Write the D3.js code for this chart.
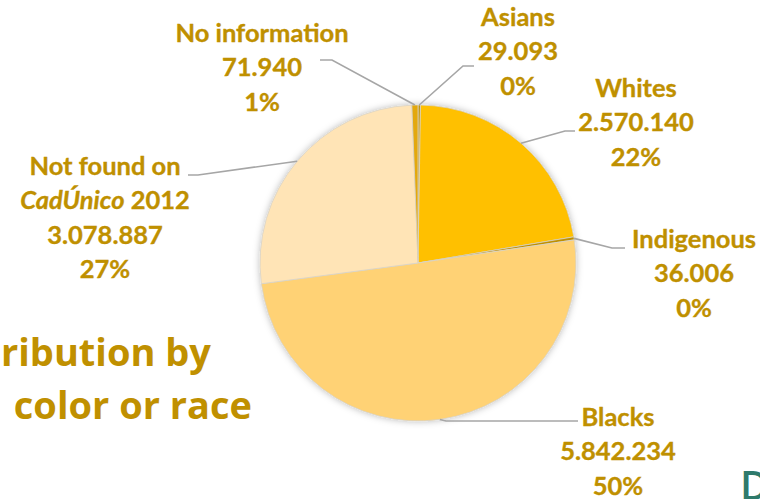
<!DOCTYPE html>
<html>
<head>
<meta charset="utf-8">
<script src="https://cdn.jsdelivr.net/npm/d3@7/dist/d3.min.js"></script>
<style>
  html, body { margin: 0; padding: 0; background: #ffffff; overflow: hidden; }
  svg { display: block; }
</style>
</head>
<body>
<svg id="chart" width="760" height="499"></svg>
<script>
// Population by color or race (pie slices in drawing order, clockwise from 12 o'clock)
const categories = ["Asians", "Whites", "Indigenous", "Blacks", "Not found on CadÚnico 2012", "No information"];
const values = [29093, 2570140, 36006, 5842234, 3078887, 71940];
const percentLabels = ["0%", "22%", "0%", "50%", "27%", "1%"];
const sliceColors = ["#bf9000", "#ffc000", "#bf9000", "#ffd274", "#ffe4b6", "#e3a80a"];

// Label placement for each slice: block centre, first baseline, leader elbow and end
const labelLayout = [
  { cx: 518, y: 26,  elbow: [463, 66],  end: [474, 66] },
  { cx: 636, y: 97,  elbow: [565, 131], end: [575, 131] },
  { cx: 694, y: 248, elbow: [612, 248], end: [625, 248] },
  { cx: 618, y: 426, elbow: [446, 421], end: [578, 421] },
  { cx: 105, y: 175, elbow: [198, 175], end: [188, 175] },
  { cx: 262, y: 42,  elbow: [332, 60],  end: [320, 60] }
];

const labelColor = "#bf9000";
const lineHeight = 34.3;
const center = [418, 263];
const radius = 158;

const ptBR = d3.formatLocale({ decimal: ",", thousands: ".", grouping: [3], currency: ["", ""] });
const fmt = ptBR.format(",d");

const svg = d3.select("#chart");

// soft shadow around the pie
const defs = svg.append("defs");
const shadow = defs.append("filter").attr("id", "pieShadow")
  .attr("x", "-10%").attr("y", "-10%").attr("width", "120%").attr("height", "120%");
shadow.append("feDropShadow")
  .attr("dx", 0).attr("dy", 0).attr("stdDeviation", 3.5)
  .attr("flood-color", "#000").attr("flood-opacity", 0.28);

const data = categories.map((c, i) => ({ name: c, value: values[i], pct: percentLabels[i], color: sliceColors[i], layout: labelLayout[i] }));

const pie = d3.pie().sort(null).value(d => d.value).startAngle(0).endAngle(2 * Math.PI);
const arcs = pie(data);
const arc = d3.arc().innerRadius(0).outerRadius(radius);

const g = svg.append("g").attr("transform", `translate(${center[0]},${center[1]})`);

g.append("g").attr("filter", "url(#pieShadow)")
  .selectAll("path")
  .data(arcs)
  .join("path")
  .attr("d", arc)
  .attr("fill", d => d.data.color)
  .attr("stroke", "#d8d3c8")
  .attr("stroke-width", 0.8);

// leader lines: from the slice's mid-angle on the rim, to the elbow, to the label
const rimPoint = d => {
  const a = (d.startAngle + d.endAngle) / 2;
  return [center[0] + radius * Math.sin(a), center[1] - radius * Math.cos(a)];
};

svg.append("g")
  .selectAll("path")
  .data(arcs)
  .join("path")
  .attr("d", d => d3.line()([rimPoint(d), d.data.layout.elbow, d.data.layout.end]))
  .attr("fill", "none")
  .attr("stroke", "#a6a6a6")
  .attr("stroke-width", 1.6);

// data labels
const labels = svg.append("g")
  .attr("font-family", "Lato, 'Open Sans', sans-serif")
  .attr("font-weight", 700)
  .attr("font-size", 25.5)
  .attr("fill", labelColor)
  .attr("stroke", labelColor)
  .attr("stroke-width", 0.35)
  .attr("text-anchor", "middle");

arcs.forEach(d => {
  const L = d.data.layout;
  const t = labels.append("text").attr("x", L.cx).attr("y", L.y);
  if (d.data.name.startsWith("Not found")) {
    t.append("tspan").attr("x", L.cx).attr("dy", 0).text("Not found on");
    const second = t.append("tspan").attr("x", L.cx).attr("dy", lineHeight);
    second.append("tspan").attr("font-style", "italic").text("CadÚnico");
    second.append("tspan").text(" 2012");
  } else {
    t.append("tspan").attr("x", L.cx).attr("dy", 0).text(d.data.name);
  }
  [fmt(d.data.value), d.data.pct].forEach(s =>
    t.append("tspan").attr("x", L.cx).attr("dy", lineHeight).text(s));
});

// slide title (continues past the left edge)
const title = svg.append("g")
  .attr("font-family", "'Open Sans', Lato, sans-serif")
  .attr("font-weight", 700)
  .attr("font-size", 38)
  .attr("fill", "#c09000")
  .attr("text-anchor", "end");
title.append("text").attr("x", 211).attr("y", 366).text("ribution by");
title.append("text").attr("x", 252).attr("y", 419).text("color or race");

// start of the next heading in the corner
svg.append("text")
  .attr("x", 740).attr("y", 500)
  .attr("font-family", "'Open Sans', sans-serif")
  .attr("font-weight", 600)
  .attr("font-size", 40)
  .attr("fill", "#2f7a6b")
  .text("D");
</script>
</body>
</html>
